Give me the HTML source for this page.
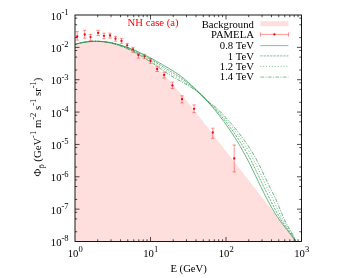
<!DOCTYPE html><html><head><meta charset="utf-8"><style>
html,body{margin:0;padding:0;background:#fff;}
#c{position:relative;width:354px;height:278px;overflow:hidden;background:#fff;will-change:transform;font-family:"Liberation Serif",serif;font-size:10.7px;color:#000;}
.t{position:absolute;white-space:nowrap;line-height:1;}
.t sup{font-size:0.8em;vertical-align:baseline;position:relative;top:-0.53em;line-height:0;}
.t sub{font-size:0.8em;vertical-align:baseline;position:relative;top:0.3em;line-height:0;}
.r{text-align:right;}
</style></head><body><div id="c">
<svg width="354" height="278" viewBox="0 0 354 278" style="position:absolute;left:0;top:0">
<defs><clipPath id="cp"><rect x="75" y="15" width="226.5" height="226.5"/></clipPath></defs>
<path d="M75.00,44.69 L76.48,44.28 L77.96,43.88 L79.45,43.52 L80.93,43.19 L82.41,42.88 L83.89,42.61 L85.37,42.36 L86.86,42.15 L88.34,41.96 L89.82,41.80 L91.30,41.68 L92.78,41.58 L94.26,41.51 L95.75,41.48 L97.23,41.47 L98.71,41.50 L100.19,41.55 L101.67,41.64 L103.16,41.75 L104.64,41.90 L106.12,42.08 L107.60,42.29 L109.08,42.54 L110.57,42.81 L112.05,43.12 L113.53,43.46 L115.01,43.83 L116.49,44.23 L117.97,44.67 L119.46,45.14 L120.94,45.64 L122.42,46.17 L123.90,46.74 L125.38,47.34 L126.87,47.98 L128.35,48.65 L129.83,49.35 L131.31,50.08 L132.79,50.85 L134.28,51.66 L135.76,52.49 L137.24,53.37 L138.72,54.27 L140.20,55.21 L141.68,56.19 L143.17,57.20 L144.65,58.25 L146.13,59.33 L147.61,60.45 L149.09,61.60 L150.58,62.79 L152.06,64.01 L153.54,65.27 L155.02,66.57 L156.50,67.90 L157.99,69.27 L159.47,70.67 L160.95,72.11 L162.43,73.57 L163.91,75.07 L165.39,76.59 L166.88,78.15 L168.36,79.73 L169.84,81.33 L171.32,82.96 L172.80,84.62 L174.29,86.29 L175.77,87.99 L177.25,89.70 L178.73,91.44 L180.21,93.19 L181.70,94.95 L183.18,96.74 L184.66,98.53 L186.14,100.34 L187.62,102.16 L189.10,103.99 L190.59,105.83 L192.07,107.67 L193.55,109.53 L195.03,111.39 L196.51,113.26 L198.00,115.13 L199.48,117.01 L200.96,118.90 L202.44,120.79 L203.92,122.68 L205.41,124.58 L206.89,126.49 L208.37,128.39 L209.85,130.30 L211.33,132.22 L212.81,134.13 L214.30,136.05 L215.78,137.97 L217.26,139.89 L218.74,141.81 L220.22,143.73 L221.71,145.66 L223.19,147.58 L224.67,149.50 L226.15,151.42 L227.63,153.33 L229.12,155.25 L230.60,157.16 L232.08,159.07 L233.56,160.98 L235.04,162.88 L236.52,164.79 L238.01,166.68 L239.49,168.58 L240.97,170.48 L242.45,172.37 L243.93,174.26 L245.42,176.15 L246.90,178.04 L248.38,179.93 L249.86,181.82 L251.34,183.70 L252.83,185.59 L254.31,187.48 L255.79,189.37 L257.27,191.26 L258.75,193.15 L260.23,195.04 L261.72,196.93 L263.20,198.83 L264.68,200.72 L266.16,202.62 L267.64,204.52 L269.13,206.43 L270.61,208.33 L272.09,210.24 L273.57,212.15 L275.05,214.07 L276.54,215.99 L278.02,217.92 L279.50,219.85 L280.98,221.78 L282.46,223.72 L283.94,225.66 L285.43,227.61 L286.91,229.57 L288.39,231.53 L289.87,233.50 L291.35,235.47 L292.84,237.45 L294.32,239.44 L295.80,241.43 L75,241.5 Z" fill="#ffdede" stroke="none"/>
<rect x="260.4" y="21.2" width="28.1" height="5.1" fill="#ffdede"/>
<g stroke="#ff0000" stroke-width="0.42" fill="none">
<path d="M77.2,31.6 V40.1 M75.5,31.6 H78.9 M75.5,40.1 H78.9"/>
<path d="M84.7,30.3 V38.2 M83.0,30.3 H86.4 M83.0,38.2 H86.4"/>
<path d="M90.5,34.5 V40.4 M88.8,34.5 H92.2 M88.8,40.4 H92.2"/>
<path d="M98.1,30.3 V35.6 M96.4,30.3 H99.8 M96.4,35.6 H99.8"/>
<path d="M104.0,33.2 V38.7 M102.3,33.2 H105.7 M102.3,38.7 H105.7"/>
<path d="M110.0,33.2 V38.1 M108.3,33.2 H111.7 M108.3,38.1 H111.7"/>
<path d="M115.5,36.3 V41.2 M113.8,36.3 H117.2 M113.8,41.2 H117.2"/>
<path d="M121.5,38.4 V43.3 M119.8,38.4 H123.2 M119.8,43.3 H123.2"/>
<path d="M127.2,43.3 V47.6 M125.5,43.3 H128.9 M125.5,47.6 H128.9"/>
<path d="M133.0,47.3 V52.2 M131.3,47.3 H134.7 M131.3,52.2 H134.7"/>
<path d="M138.4,53.4 V58.1 M136.7,53.4 H140.1 M136.7,58.1 H140.1"/>
<path d="M144.5,54.3 V58.6 M142.8,54.3 H146.2 M142.8,58.6 H146.2"/>
<path d="M150.5,58.6 V63.3 M148.8,58.6 H152.2 M148.8,63.3 H152.2"/>
<path d="M157.2,66.2 V71.5 M155.5,66.2 H158.9 M155.5,71.5 H158.9"/>
<path d="M164.1,72.2 V78.0 M162.4,72.2 H165.8 M162.4,78.0 H165.8"/>
<path d="M172.4,82.0 V88.6 M170.7,82.0 H174.1 M170.7,88.6 H174.1"/>
<path d="M182.0,95.8 V103.0 M180.3,95.8 H183.7 M180.3,103.0 H183.7"/>
<path d="M194.1,104.9 V112.6 M192.4,104.9 H195.8 M192.4,112.6 H195.8"/>
<path d="M212.8,128.2 V138.2 M211.1,128.2 H214.5 M211.1,138.2 H214.5"/>
<path d="M234.2,145.0 V172.0 M232.5,145.0 H235.9 M232.5,172.0 H235.9"/>
<path d="M260.4,34.4 H288.5 M260.4,32.4 V36.5 M288.5,32.4 V36.5"/>
</g>
<g fill="#ff0000" stroke="none">
<circle cx="77.2" cy="36.5" r="1.15"/>
<circle cx="84.7" cy="34.5" r="1.15"/>
<circle cx="90.5" cy="37.1" r="1.15"/>
<circle cx="98.1" cy="32.9" r="1.15"/>
<circle cx="104.0" cy="35.8" r="1.15"/>
<circle cx="110.0" cy="35.5" r="1.15"/>
<circle cx="115.5" cy="38.7" r="1.15"/>
<circle cx="121.5" cy="40.9" r="1.15"/>
<circle cx="127.2" cy="45.3" r="1.15"/>
<circle cx="133.0" cy="49.5" r="1.15"/>
<circle cx="138.4" cy="55.0" r="1.15"/>
<circle cx="144.5" cy="56.4" r="1.15"/>
<circle cx="150.5" cy="61.0" r="1.15"/>
<circle cx="157.2" cy="69.0" r="1.15"/>
<circle cx="164.1" cy="75.0" r="1.15"/>
<circle cx="172.4" cy="85.4" r="1.15"/>
<circle cx="182.0" cy="99.2" r="1.15"/>
<circle cx="194.1" cy="108.8" r="1.15"/>
<circle cx="212.8" cy="132.5" r="1.15"/>
<circle cx="234.2" cy="158.5" r="1.15"/>
<circle cx="274.4" cy="34.4" r="1.15"/>
</g>
<g clip-path="url(#cp)" fill="none" stroke="#1b8c3e" stroke-width="0.68">
<path d="M75.00,44.36 L76.46,43.92 L77.92,43.52 L79.38,43.15 L80.84,42.81 L82.30,42.50 L83.76,42.23 L85.22,42.00 L86.69,41.79 L88.15,41.62 L89.61,41.48 L91.07,41.36 L92.53,41.28 L93.99,41.23 L95.45,41.21 L96.91,41.22 L98.37,41.26 L99.83,41.33 L101.29,41.42 L102.75,41.54 L104.21,41.69 L105.67,41.87 L107.13,42.07 L108.60,42.30 L110.06,42.55 L111.52,42.83 L112.98,43.14 L114.44,43.46 L115.90,43.81 L117.36,44.19 L118.82,44.59 L120.28,45.01 L121.74,45.45 L123.20,45.91 L124.66,46.40 L126.12,46.90 L127.58,47.43 L129.04,47.98 L130.51,48.54 L131.97,49.13 L133.43,49.73 L134.89,50.35 L136.35,50.99 L137.81,51.64 L139.27,52.31 L140.73,53.00 L142.19,53.70 L143.65,54.42 L145.11,55.15 L146.57,55.89 L148.03,56.64 L149.49,57.41 L150.96,58.19 L152.42,58.98 L153.88,59.77 L155.34,60.58 L156.80,61.40 L158.26,62.23 L159.72,63.06 L161.18,63.90 L162.64,64.75 L164.10,65.60 L165.56,66.46 L167.02,67.33 L168.48,68.20 L169.94,69.07 L171.40,69.95 L172.87,70.83 L174.33,71.74 L175.79,72.67 L177.25,73.62 L178.71,74.62 L180.17,75.67 L181.63,76.76 L183.09,77.91 L184.55,79.12 L186.01,80.37 L187.47,81.66 L188.93,82.98 L190.39,84.32 L191.85,85.69 L193.31,87.07 L194.78,88.47 L196.24,89.88 L197.70,91.30 L199.16,92.75 L200.62,94.22 L202.08,95.72 L203.54,97.24 L205.00,98.78 L206.11,99.98 L207.21,101.18 L208.30,102.38 L209.37,103.58 L210.42,104.78 L211.46,105.98 L212.49,107.18 L213.50,108.38 L214.50,109.58 L215.49,110.78 L216.47,111.98 L217.43,113.18 L218.38,114.37 L219.32,115.57 L220.25,116.77 L221.17,117.97 L222.08,119.17 L222.98,120.37 L223.86,121.57 L224.74,122.77 L225.61,123.97 L226.46,125.17 L227.31,126.37 L228.15,127.57 L228.98,128.77 L229.80,129.97 L230.61,131.16 L231.42,132.36 L232.21,133.56 L233.00,134.76 L233.78,135.96 L234.55,137.16 L235.32,138.36 L236.07,139.56 L236.82,140.76 L237.56,141.96 L238.29,143.16 L239.01,144.36 L239.72,145.56 L240.43,146.76 L241.13,147.95 L241.82,149.15 L242.50,150.35 L243.18,151.55 L243.85,152.75 L244.51,153.95 L245.16,155.15 L245.81,156.35 L246.44,157.55 L247.07,158.75 L247.70,159.95 L248.32,161.15 L248.93,162.35 L249.54,163.55 L250.14,164.75 L250.74,165.94 L251.33,167.14 L251.92,168.34 L252.51,169.54 L253.09,170.74 L253.68,171.94 L254.26,173.14 L254.84,174.34 L255.42,175.54 L256.00,176.74 L256.58,177.94 L257.16,179.14 L257.74,180.34 L258.32,181.54 L258.90,182.73 L259.48,183.93 L260.06,185.13 L260.64,186.33 L261.23,187.53 L261.82,188.73 L262.41,189.93 L263.00,191.13 L263.60,192.33 L264.20,193.53 L264.80,194.73 L265.41,195.93 L266.02,197.13 L266.64,198.33 L267.26,199.52 L267.89,200.72 L268.53,201.92 L269.18,203.12 L269.83,204.32 L270.49,205.52 L271.16,206.72 L271.84,207.92 L272.54,209.12 L273.25,210.32 L273.97,211.52 L274.71,212.72 L275.46,213.92 L276.24,215.12 L277.03,216.31 L277.84,217.51 L278.67,218.71 L279.51,219.91 L280.37,221.11 L281.25,222.31 L282.14,223.51 L283.05,224.71 L283.96,225.91 L284.89,227.11 L285.82,228.31 L286.76,229.51 L287.70,230.71 L288.64,231.91 L289.57,233.10 L290.50,234.30 L291.42,235.50 L292.34,236.70 L293.24,237.90 L294.12,239.10 L294.99,240.30 L295.85,241.50"/>
<path d="M75.00,44.41 L76.46,43.98 L77.92,43.58 L79.38,43.22 L80.84,42.89 L82.30,42.59 L83.76,42.32 L85.22,42.08 L86.69,41.87 L88.15,41.70 L89.61,41.55 L91.07,41.44 L92.53,41.35 L93.99,41.30 L95.45,41.28 L96.91,41.28 L98.37,41.32 L99.83,41.39 L101.29,41.48 L102.75,41.61 L104.21,41.76 L105.67,41.95 L107.13,42.16 L108.60,42.40 L110.06,42.67 L111.52,42.97 L112.98,43.29 L114.44,43.64 L115.90,44.02 L117.36,44.42 L118.82,44.85 L120.28,45.30 L121.74,45.77 L123.20,46.27 L124.66,46.80 L126.12,47.34 L127.58,47.91 L129.04,48.49 L130.51,49.10 L131.97,49.73 L133.43,50.38 L134.89,51.05 L136.35,51.74 L137.81,52.44 L139.27,53.16 L140.73,53.90 L142.19,54.66 L143.65,55.43 L145.11,56.22 L146.57,57.02 L148.03,57.83 L149.49,58.66 L150.96,59.50 L152.42,60.35 L153.88,61.21 L155.34,62.09 L156.80,62.97 L158.26,63.86 L159.72,64.75 L161.18,65.65 L162.64,66.55 L164.10,67.45 L165.56,68.36 L167.02,69.25 L168.48,70.15 L169.94,71.04 L171.40,71.93 L172.87,72.81 L174.33,73.70 L175.79,74.60 L177.25,75.52 L178.71,76.46 L180.17,77.43 L181.63,78.43 L183.09,79.47 L184.55,80.55 L186.01,81.67 L187.47,82.81 L188.93,83.98 L190.39,85.18 L191.85,86.40 L193.31,87.64 L194.78,88.90 L196.24,90.18 L197.70,91.49 L199.16,92.84 L200.62,94.22 L202.08,95.65 L203.54,97.12 L205.00,98.64 L206.29,99.98 L207.43,101.18 L208.60,102.38 L209.82,103.58 L211.07,104.78 L212.32,105.98 L213.51,107.18 L214.64,108.38 L215.73,109.58 L216.79,110.78 L217.83,111.98 L218.85,113.18 L219.87,114.37 L220.87,115.57 L221.86,116.77 L222.84,117.97 L223.80,119.17 L224.76,120.37 L225.70,121.57 L226.64,122.77 L227.56,123.97 L228.47,125.17 L229.37,126.37 L230.26,127.57 L231.15,128.77 L232.02,129.97 L232.88,131.16 L233.73,132.36 L234.57,133.56 L235.40,134.76 L236.22,135.96 L237.04,137.16 L237.84,138.36 L238.63,139.56 L239.42,140.76 L240.20,141.96 L240.96,143.16 L241.72,144.36 L242.46,145.56 L243.20,146.76 L243.93,147.95 L244.65,149.15 L245.35,150.35 L246.05,151.55 L246.74,152.75 L247.42,153.95 L248.09,155.15 L248.75,156.35 L249.40,157.55 L250.04,158.75 L250.67,159.95 L251.30,161.15 L251.91,162.35 L252.52,163.55 L253.13,164.75 L253.72,165.94 L254.32,167.14 L254.90,168.34 L255.49,169.54 L256.07,170.74 L256.65,171.94 L257.22,173.14 L257.80,174.34 L258.37,175.54 L258.95,176.74 L259.52,177.94 L260.09,179.14 L260.67,180.34 L261.24,181.54 L261.82,182.73 L262.40,183.93 L262.98,185.13 L263.57,186.33 L264.16,187.53 L264.75,188.73 L265.35,189.93 L265.95,191.13 L266.55,192.33 L267.16,193.53 L267.76,194.73 L268.36,195.93 L268.96,197.13 L269.56,198.33 L270.16,199.52 L270.76,200.72 L271.35,201.92 L271.95,203.12 L272.55,204.32 L273.16,205.52 L273.77,206.72 L274.38,207.92 L275.01,209.12 L275.64,210.32 L276.29,211.52 L276.94,212.72 L277.61,213.92 L278.30,215.12 L279.00,216.31 L279.71,217.51 L280.44,218.71 L281.20,219.91 L281.97,221.11 L282.76,222.31 L283.56,223.51 L284.39,224.71 L285.22,225.91 L286.07,227.11 L286.93,228.31 L287.78,229.51 L288.64,230.71 L289.50,231.91 L290.35,233.10 L291.19,234.30 L292.02,235.50 L292.83,236.70 L293.63,237.90 L294.41,239.10 L295.17,240.30 L295.91,241.50" stroke-dasharray="2.3,1"/>
<path d="M75.00,44.45 L76.46,44.04 L77.92,43.65 L79.38,43.29 L80.84,42.97 L82.30,42.67 L83.76,42.40 L85.22,42.16 L86.69,41.96 L88.15,41.78 L89.61,41.63 L91.07,41.51 L92.53,41.42 L93.99,41.37 L95.45,41.34 L96.91,41.34 L98.37,41.38 L99.83,41.45 L101.29,41.54 L102.75,41.67 L104.21,41.83 L105.67,42.03 L107.13,42.25 L108.60,42.50 L110.06,42.79 L111.52,43.10 L112.98,43.45 L114.44,43.82 L115.90,44.22 L117.36,44.65 L118.82,45.11 L120.28,45.59 L121.74,46.10 L123.20,46.63 L124.66,47.19 L126.12,47.77 L127.58,48.38 L129.04,49.01 L130.51,49.66 L131.97,50.34 L133.43,51.03 L134.89,51.75 L136.35,52.48 L137.81,53.24 L139.27,54.01 L140.73,54.80 L142.19,55.61 L143.65,56.44 L145.11,57.28 L146.57,58.14 L148.03,59.02 L149.49,59.91 L150.96,60.81 L152.42,61.72 L153.88,62.65 L155.34,63.59 L156.80,64.54 L158.26,65.49 L159.72,66.45 L161.18,67.40 L162.64,68.35 L164.10,69.30 L165.56,70.25 L167.02,71.18 L168.48,72.10 L169.94,73.01 L171.40,73.91 L172.87,74.79 L174.33,75.66 L175.79,76.53 L177.25,77.41 L178.71,78.29 L180.17,79.19 L181.63,80.10 L183.09,81.03 L184.55,81.99 L186.01,82.97 L187.47,83.97 L188.93,84.99 L190.39,86.04 L191.85,87.11 L193.31,88.20 L194.78,89.33 L196.24,90.48 L197.70,91.68 L199.16,92.92 L200.62,94.22 L202.08,95.58 L203.54,97.00 L205.00,98.49 L206.46,99.98 L207.65,101.18 L208.90,102.38 L210.27,103.58 L211.73,104.78 L213.19,105.98 L214.54,107.18 L215.78,108.38 L216.95,109.58 L218.08,110.78 L219.18,111.98 L220.27,113.18 L221.35,114.37 L222.41,115.57 L223.46,116.77 L224.50,117.97 L225.53,119.17 L226.54,120.37 L227.55,121.57 L228.54,122.77 L229.52,123.97 L230.48,125.17 L231.44,126.37 L232.38,127.57 L233.31,128.77 L234.23,129.97 L235.14,131.16 L236.04,132.36 L236.92,133.56 L237.80,134.76 L238.67,135.96 L239.52,137.16 L240.36,138.36 L241.20,139.56 L242.02,140.76 L242.83,141.96 L243.64,143.16 L244.43,144.36 L245.20,145.56 L245.97,146.76 L246.73,147.95 L247.47,149.15 L248.20,150.35 L248.92,151.55 L249.63,152.75 L250.33,153.95 L251.01,155.15 L251.69,156.35 L252.35,157.55 L253.00,158.75 L253.65,159.95 L254.28,161.15 L254.90,162.35 L255.51,163.55 L256.12,164.75 L256.71,165.94 L257.30,167.14 L257.89,168.34 L258.47,169.54 L259.05,170.74 L259.62,171.94 L260.19,173.14 L260.76,174.34 L261.33,175.54 L261.89,176.74 L262.46,177.94 L263.03,179.14 L263.60,180.34 L264.17,181.54 L264.75,182.73 L265.33,183.93 L265.91,185.13 L266.50,186.33 L267.09,187.53 L267.69,188.73 L268.30,189.93 L268.90,191.13 L269.51,192.33 L270.12,193.53 L270.72,194.73 L271.31,195.93 L271.90,197.13 L272.48,198.33 L273.06,199.52 L273.62,200.72 L274.18,201.92 L274.73,203.12 L275.28,204.32 L275.83,205.52 L276.37,206.72 L276.93,207.92 L277.48,209.12 L278.04,210.32 L278.60,211.52 L279.18,212.72 L279.76,213.92 L280.36,215.12 L280.96,216.31 L281.58,217.51 L282.22,218.71 L282.88,219.91 L283.56,221.11 L284.26,222.31 L284.98,223.51 L285.72,224.71 L286.48,225.91 L287.25,227.11 L288.03,228.31 L288.81,229.51 L289.59,230.71 L290.37,231.91 L291.13,233.10 L291.88,234.30 L292.61,235.50 L293.32,236.70 L294.02,237.90 L294.69,239.10 L295.34,240.30 L295.97,241.50" stroke-dasharray="1,1.9"/>
<path d="M75.00,44.49 L76.46,44.09 L77.92,43.72 L79.38,43.37 L80.84,43.05 L82.30,42.75 L83.76,42.49 L85.22,42.25 L86.69,42.04 L88.15,41.86 L89.61,41.71 L91.07,41.58 L92.53,41.49 L93.99,41.43 L95.45,41.40 L96.91,41.40 L98.37,41.44 L99.83,41.50 L101.29,41.60 L102.75,41.74 L104.21,41.90 L105.67,42.10 L107.13,42.34 L108.60,42.61 L110.06,42.91 L111.52,43.24 L112.98,43.61 L114.44,44.00 L115.90,44.43 L117.36,44.88 L118.82,45.37 L120.28,45.88 L121.74,46.42 L123.20,46.99 L124.66,47.59 L126.12,48.21 L127.58,48.86 L129.04,49.53 L130.51,50.22 L131.97,50.94 L133.43,51.68 L134.89,52.44 L136.35,53.23 L137.81,54.04 L139.27,54.86 L140.73,55.71 L142.19,56.57 L143.65,57.45 L145.11,58.35 L146.57,59.27 L148.03,60.21 L149.49,61.16 L150.96,62.12 L152.42,63.10 L153.88,64.09 L155.34,65.10 L156.80,66.11 L158.26,67.12 L159.72,68.14 L161.18,69.15 L162.64,70.16 L164.10,71.15 L165.56,72.14 L167.02,73.11 L168.48,74.06 L169.94,74.98 L171.40,75.88 L172.87,76.76 L174.33,77.62 L175.79,78.47 L177.25,79.30 L178.71,80.13 L180.17,80.95 L181.63,81.77 L183.09,82.59 L184.55,83.42 L186.01,84.27 L187.47,85.12 L188.93,86.00 L190.39,86.89 L191.85,87.82 L193.31,88.77 L194.78,89.76 L196.24,90.79 L197.70,91.87 L199.16,93.01 L200.62,94.22 L202.08,95.51 L203.54,96.88 L205.00,98.34 L206.63,99.98 L207.86,101.18 L209.20,102.38 L210.72,103.58 L212.38,104.78 L214.05,105.98 L215.57,107.18 L216.92,108.38 L218.18,109.58 L219.38,110.78 L220.54,111.98 L221.69,113.18 L222.83,114.37 L223.95,115.57 L225.07,116.77 L226.17,117.97 L227.25,119.17 L228.33,120.37 L229.39,121.57 L230.44,122.77 L231.47,123.97 L232.49,125.17 L233.50,126.37 L234.49,127.57 L235.48,128.77 L236.45,129.97 L237.40,131.16 L238.35,132.36 L239.28,133.56 L240.20,134.76 L241.11,135.96 L242.00,137.16 L242.89,138.36 L243.76,139.56 L244.62,140.76 L245.47,141.96 L246.31,143.16 L247.13,144.36 L247.94,145.56 L248.74,146.76 L249.53,147.95 L250.30,149.15 L251.05,150.35 L251.79,151.55 L252.52,152.75 L253.24,153.95 L253.94,155.15 L254.63,156.35 L255.30,157.55 L255.97,158.75 L256.62,159.95 L257.26,161.15 L257.89,162.35 L258.50,163.55 L259.11,164.75 L259.70,165.94 L260.29,167.14 L260.87,168.34 L261.45,169.54 L262.02,170.74 L262.59,171.94 L263.16,173.14 L263.72,174.34 L264.28,175.54 L264.84,176.74 L265.40,177.94 L265.97,179.14 L266.53,180.34 L267.10,181.54 L267.67,182.73 L268.25,183.93 L268.83,185.13 L269.42,186.33 L270.02,187.53 L270.63,188.73 L271.24,189.93 L271.85,191.13 L272.47,192.33 L273.08,193.53 L273.68,194.73 L274.27,195.93 L274.84,197.13 L275.41,198.33 L275.95,199.52 L276.48,200.72 L277.00,201.92 L277.50,203.12 L278.00,204.32 L278.49,205.52 L278.98,206.72 L279.47,207.92 L279.95,209.12 L280.43,210.32 L280.92,211.52 L281.41,212.72 L281.91,213.92 L282.41,215.12 L282.93,216.31 L283.46,217.51 L284.00,218.71 L284.57,219.91 L285.15,221.11 L285.77,222.31 L286.40,223.51 L287.06,224.71 L287.74,225.91 L288.43,227.11 L289.13,228.31 L289.84,229.51 L290.54,230.71 L291.23,231.91 L291.91,233.10 L292.57,234.30 L293.20,235.50 L293.82,236.70 L294.41,237.90 L294.97,239.10 L295.51,240.30 L296.03,241.50" stroke-dasharray="3.8,1.3,1.1,1.3"/>
</g>
<g fill="none" stroke="#1b8c3e" stroke-width="0.55">
<path d="M260.3,45.6 H288.4"/>
<path d="M260.3,55.9 H288.4" stroke-dasharray="2.3,1"/>
<path d="M260.3,66.4 H288.4" stroke-dasharray="1,1.9"/>
<path d="M260.3,77.1 H288.4" stroke-dasharray="3.8,1.3,1.1,1.3"/>
</g>
<g stroke="#000" stroke-width="0.9" fill="none">
<rect x="75.0" y="15.0" width="226.5" height="226.5"/>
<path stroke-width="0.7" d="M97.73,241.5 v-2.2 M97.73,15.0 v2.2 M111.02,241.5 v-2.2 M111.02,15.0 v2.2 M120.46,241.5 v-2.2 M120.46,15.0 v2.2 M127.77,241.5 v-2.2 M127.77,15.0 v2.2 M133.75,241.5 v-2.2 M133.75,15.0 v2.2 M138.80,241.5 v-2.2 M138.80,15.0 v2.2 M143.18,241.5 v-2.2 M143.18,15.0 v2.2 M147.05,241.5 v-2.2 M147.05,15.0 v2.2 M150.50,241.5 v-4.5 M150.50,15.0 v4.5 M173.23,241.5 v-2.2 M173.23,15.0 v2.2 M186.52,241.5 v-2.2 M186.52,15.0 v2.2 M195.96,241.5 v-2.2 M195.96,15.0 v2.2 M203.27,241.5 v-2.2 M203.27,15.0 v2.2 M209.25,241.5 v-2.2 M209.25,15.0 v2.2 M214.30,241.5 v-2.2 M214.30,15.0 v2.2 M218.68,241.5 v-2.2 M218.68,15.0 v2.2 M222.55,241.5 v-2.2 M222.55,15.0 v2.2 M226.00,241.5 v-4.5 M226.00,15.0 v4.5 M248.73,241.5 v-2.2 M248.73,15.0 v2.2 M262.02,241.5 v-2.2 M262.02,15.0 v2.2 M271.46,241.5 v-2.2 M271.46,15.0 v2.2 M278.77,241.5 v-2.2 M278.77,15.0 v2.2 M284.75,241.5 v-2.2 M284.75,15.0 v2.2 M289.80,241.5 v-2.2 M289.80,15.0 v2.2 M294.18,241.5 v-2.2 M294.18,15.0 v2.2 M298.05,241.5 v-2.2 M298.05,15.0 v2.2 M75.0,231.76 h2.2 M301.5,231.76 h-2.2 M75.0,218.88 h2.2 M301.5,218.88 h-2.2 M75.0,212.28 h2.2 M301.5,212.28 h-2.2 M75.0,209.14 h4.5 M301.5,209.14 h-4.5 M75.0,199.40 h2.2 M301.5,199.40 h-2.2 M75.0,186.53 h2.2 M301.5,186.53 h-2.2 M75.0,179.92 h2.2 M301.5,179.92 h-2.2 M75.0,176.79 h4.5 M301.5,176.79 h-4.5 M75.0,167.05 h2.2 M301.5,167.05 h-2.2 M75.0,154.17 h2.2 M301.5,154.17 h-2.2 M75.0,147.56 h2.2 M301.5,147.56 h-2.2 M75.0,144.43 h4.5 M301.5,144.43 h-4.5 M75.0,134.69 h2.2 M301.5,134.69 h-2.2 M75.0,121.81 h2.2 M301.5,121.81 h-2.2 M75.0,115.21 h2.2 M301.5,115.21 h-2.2 M75.0,112.07 h4.5 M301.5,112.07 h-4.5 M75.0,102.33 h2.2 M301.5,102.33 h-2.2 M75.0,89.45 h2.2 M301.5,89.45 h-2.2 M75.0,82.85 h2.2 M301.5,82.85 h-2.2 M75.0,79.71 h4.5 M301.5,79.71 h-4.5 M75.0,69.97 h2.2 M301.5,69.97 h-2.2 M75.0,57.10 h2.2 M301.5,57.10 h-2.2 M75.0,50.49 h2.2 M301.5,50.49 h-2.2 M75.0,47.36 h4.5 M301.5,47.36 h-4.5 M75.0,37.62 h2.2 M301.5,37.62 h-2.2 M75.0,24.74 h2.2 M301.5,24.74 h-2.2 M75.0,18.14 h2.2 M301.5,18.14 h-2.2"/>
</g>
</svg>
<div class="t r" style="right:285.4px;top:10.6px">10<sup>-1</sup></div>
<div class="t r" style="right:285.4px;top:42.9px">10<sup>-2</sup></div>
<div class="t r" style="right:285.4px;top:75.3px">10<sup>-3</sup></div>
<div class="t r" style="right:285.4px;top:107.6px">10<sup>-4</sup></div>
<div class="t r" style="right:285.4px;top:140.0px">10<sup>-5</sup></div>
<div class="t r" style="right:285.4px;top:172.3px">10<sup>-6</sup></div>
<div class="t r" style="right:285.4px;top:204.7px">10<sup>-7</sup></div>
<div class="t r" style="right:285.4px;top:237.0px">10<sup>-8</sup></div>
<div class="t" style="left:67.7px;top:247.9px">10<sup>0</sup></div>
<div class="t" style="left:143.2px;top:247.9px">10<sup>1</sup></div>
<div class="t" style="left:218.7px;top:247.9px">10<sup>2</sup></div>
<div class="t" style="left:294.2px;top:247.9px">10<sup>3</sup></div>
<div class="t" style="left:170.4px;top:262.9px">E (GeV)</div>
<div class="t" style="left:127.6px;top:16.8px;color:#f00;font-size:10.7px">NH case (a)</div>
<div class="t r" style="right:100.1px;top:18.6px">Background</div>
<div class="t r" style="right:100.1px;top:28.6px">PAMELA</div>
<div class="t r" style="right:100.1px;top:40.0px">0.8 TeV</div>
<div class="t r" style="right:100.1px;top:50.6px">1 TeV</div>
<div class="t r" style="right:100.1px;top:61.0px">1.2 TeV</div>
<div class="t r" style="right:100.1px;top:71.4px">1.4 TeV</div>
<div class="t" id="yl" style="font-size:10.7px;left:41.7px;top:127.4px;transform-origin:0 0;transform:rotate(-90deg) translate(-50%,-9.52px)">&Phi;<sub>p&#772;</sub> (GeV<sup>-1</sup> m<sup>-2</sup> s<sup>-1</sup> sr<sup>-1</sup>)</div>
</div></body></html>
